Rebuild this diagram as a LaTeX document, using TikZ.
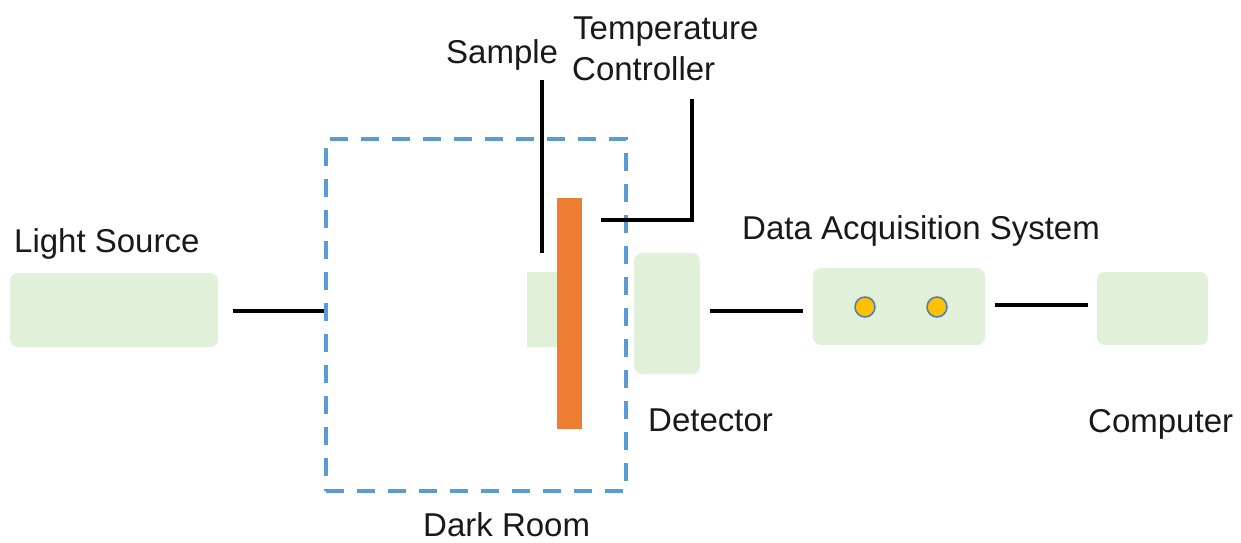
\documentclass[tikz,border=0pt]{standalone}
\usepackage{fontspec}
\setmainfont{Liberation Sans}
\definecolor{boxgreen}{HTML}{E0F0D9}
\definecolor{roomblue}{HTML}{5B9BD5}
\definecolor{barorange}{HTML}{ED7D31}
\definecolor{dotyellow}{HTML}{FFC000}
\definecolor{dotedge}{HTML}{4A7DB0}
\begin{document}
\begin{tikzpicture}[x=1pt,y=1pt,
  greenbox/.style={fill=boxgreen, draw=none, rounded corners=8pt, inner sep=0pt},
  plainbox/.style={fill=boxgreen, draw=none, inner sep=0pt},
  link/.style={line width=4pt, black},
  lbl/.style={font=\fontsize{33}{38}\selectfont, anchor=base west, inner sep=0pt, text=black!90},
  roomstyle/.style={draw=roomblue, line width=4pt, dash pattern=on 18pt off 13pt, inner sep=0pt},
  dot/.style={circle, fill=dotyellow, draw=dotedge, line width=1.5pt, minimum size=20pt, inner sep=0pt}]
\useasboundingbox (0,0) rectangle (1241,-542);
% dark room
\node[roomstyle, minimum width=300pt, minimum height=352pt] (room) at (476,-315) {};
% boxes
\node[greenbox, minimum width=208pt, minimum height=74pt] (ls) at (114,-310) {};
\node[plainbox, minimum width=31pt, minimum height=75pt] (holder) at (542.5,-309.5) {};
\node[fill=barorange, inner sep=0pt, minimum width=25pt, minimum height=231pt] (sample) at (569.5,-313.5) {};
\node[greenbox, minimum width=66pt, minimum height=121pt] (det) at (667,-313.5) {};
\node[greenbox, minimum width=172pt, minimum height=77pt] (daq) at (899,-306.5) {};
\node[greenbox, minimum width=111pt, minimum height=73pt] (pc) at (1152.5,-308.5) {};
\node[dot] (d1) at (865,-307) {};
\node[dot] (d2) at (937,-307) {};
% connectors
\draw[link, shorten <=15pt] (ls.east |- 0,-311) -- (room.west |- 0,-311);
\draw[link, shorten <=10pt, shorten >=10pt] (det.east |- 0,-311) -- (daq.west |- 0,-311);
\draw[link, shorten <=10pt, shorten >=9pt] (daq.east |- 0,-305) -- (pc.west |- 0,-305);
\coordinate (sampTop) at (542,-80);
\coordinate (sampBot) at (542,-253);
\draw[link] (sampTop) -- (sampBot);
\coordinate (tcStart) at (601,-220);
\coordinate (tcTop) at (692,-99);
\draw[link] (tcStart) -| (tcTop);
% labels
\node[lbl] (tls) at (14,-252) {Light Source};
\node[lbl] (tsam) at (446,-63) {Sample};
\node[lbl] (ttemp) at (573,-39) {Temperature};
\node[lbl] (tctrl) at (572,-80) {Controller};
\node[lbl] (tdaq) at (742,-239) {Data Acquisition System};
\node[lbl] (tdet) at (648,-431) {Detector};
\node[lbl] (tpc) at (1088,-432) {Computer};
\node[lbl] (troom) at (423,-536) {Dark Room};
\end{tikzpicture}
\end{document}
